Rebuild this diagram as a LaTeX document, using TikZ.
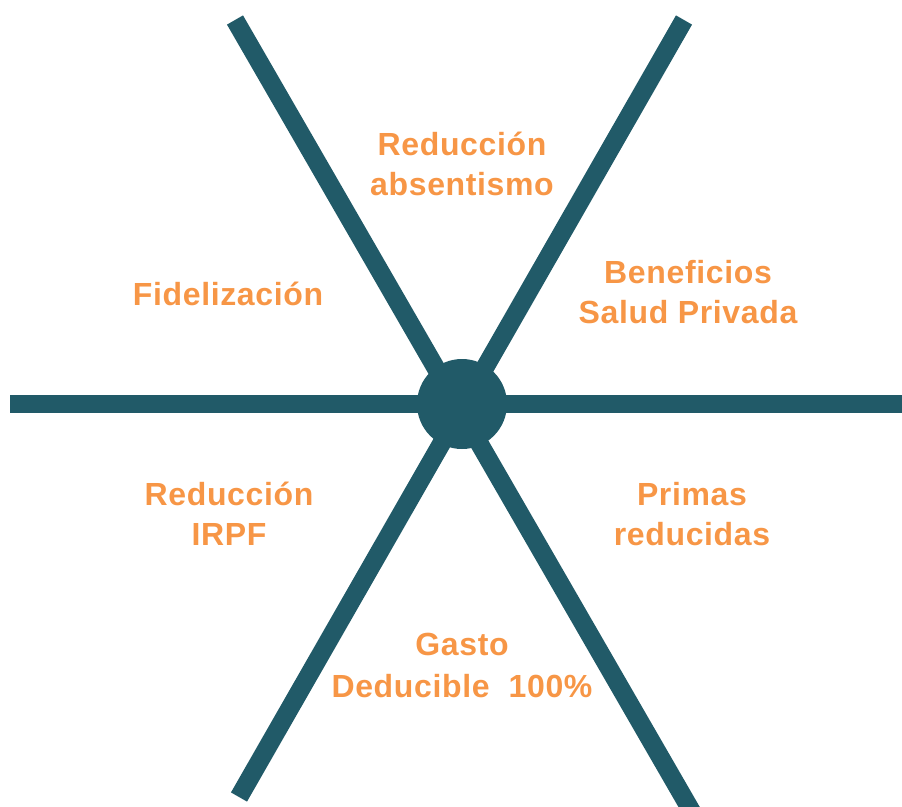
\documentclass[tikz,border=0pt]{standalone}
\usepackage{fontspec}
\setmainfont{Liberation Sans}
\definecolor{spoke}{HTML}{215A68}
\definecolor{lbl}{HTML}{F79646}
\tikzset{
  spokeline/.style={draw=spoke, line width=18.5pt, line cap=butt},
  lbltext/.style={text=lbl, font=\fontsize{32}{40}\selectfont\bfseries\addfontfeatures{LetterSpace=2}, anchor=base, inner sep=0pt}
}
\begin{document}
\begin{tikzpicture}[x=1pt,y=-1pt]
\useasboundingbox (0,0) rectangle (902,806);
\clip (0,0) rectangle (902,806);
\coordinate (c) at (462,404);
\coordinate (l) at (10,404);
\coordinate (r) at (910,404);
\coordinate (ul) at (235,20);
\coordinate (br) at (692,812);
\coordinate (ur) at (684,20);
\coordinate (bl) at (239,797);
\draw[spokeline] (l) -- (r);
\draw[spokeline] (ul) -- (br);
\draw[spokeline] (ur) -- (bl);
\node[fill=spoke, circle, minimum size=90pt, inner sep=0pt] (hub) at (c) {};
\node[lbltext] (t1a) at (462,155) {Reducción};
\node[lbltext] (t1b) at (462,195) {absentismo};
\node[lbltext] (t2) at (228,305) {Fidelización};
\node[lbltext] (t3a) at (688,283) {Beneficios};
\node[lbltext] (t3b) at (688,323) {Salud Privada};
\node[lbltext] (t4a) at (229,505) {Reducción};
\node[lbltext] (t4b) at (229,545) {IRPF};
\node[lbltext] (t5a) at (692,505) {Primas};
\node[lbltext] (t5b) at (692,545) {reducidas};
\node[lbltext] (t6a) at (462,655) {Gasto};
\node[lbltext] (t6b) at (462,697) {Deducible\ \ 100\%};
\end{tikzpicture}
\end{document}
